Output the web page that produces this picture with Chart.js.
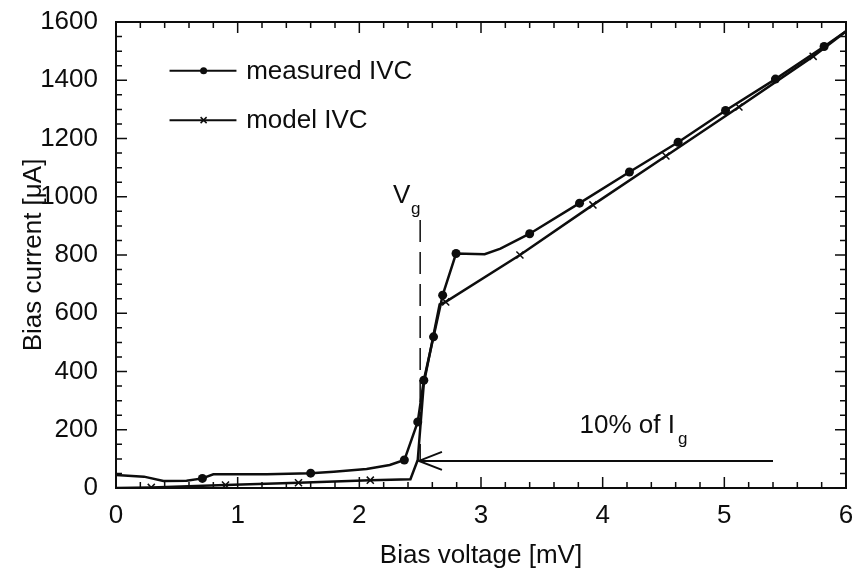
<!DOCTYPE html>
<html>
<head>
<meta charset="utf-8">
<script src="https://cdn.jsdelivr.net/npm/chart.js@4"></script>
<style>
  html, body { margin: 0; padding: 0; background: #fff; }
</style>
</head>
<body>
<canvas id="ivChart" width="853" height="575"></canvas>
<script>
// measured IV curve (mV, uA); marks = where the dots sit
const measuredV = [0, 0.23, 0.39, 0.58, 0.71, 0.8, 1.24, 1.6, 1.79, 2.06, 2.25, 2.37, 2.48, 2.53, 2.61, 2.685, 2.795, 3.03, 3.16, 3.40, 3.81, 4.22, 4.62, 5.01, 5.42, 5.82, 6.0];
const measuredI = [45, 39, 24, 25, 33, 47, 47, 51, 56, 65, 79, 96, 227, 370, 519, 662, 805, 803, 822, 873, 978, 1085, 1187, 1296, 1404, 1516, 1568];
const measuredMarks = [0, 0, 0, 0, 1, 0, 0, 1, 0, 0, 0, 1, 1, 1, 1, 1, 1, 0, 0, 1, 1, 1, 1, 1, 1, 1, 0];

// model IV curve
const modelV = [0, 0.29, 0.9, 1.5, 2.09, 2.42, 2.48, 2.53, 2.66, 2.71, 3.32, 3.92, 4.52, 5.12, 5.73, 6.0];
const modelI = [0, 2, 10, 18, 27, 30, 96, 359, 630, 639, 800, 972, 1140, 1308, 1482, 1568];
const modelMarks = [0, 1, 1, 1, 1, 0, 0, 0, 0, 1, 1, 1, 1, 1, 1, 0];

const xTicks = [0, 1, 2, 3, 4, 5, 6];
const yTicks = [0, 200, 400, 600, 800, 1000, 1200, 1400, 1600];

// annotations: gap voltage marker and the 10% of Ig arrow
const gapVoltage = 2.5;
const gapLine = [90, 920];
const arrowCurrent = 93;
const arrowFrom = 5.4;
const arrowTo = 2.49;

const FONT = '"Liberation Sans", Arial, Helvetica, sans-serif';
const INK = '#0d0d0d';

function toPoints(xs, ys) {
  return xs.map((x, i) => ({ x: x, y: ys[i] }));
}

const frameAndNotes = {
  id: 'frameAndNotes',
  afterDatasetsDraw(chart) {
    const ctx = chart.ctx;
    const a = chart.chartArea;
    const xs = chart.scales.x;
    const ys = chart.scales.y;
    ctx.save();
    ctx.strokeStyle = INK;
    ctx.fillStyle = INK;

    // frame
    ctx.lineWidth = 2;
    ctx.strokeRect(a.left, a.top, a.right - a.left, a.bottom - a.top);

    // inward ticks on all four sides
    ctx.lineWidth = 1.5;
    ctx.beginPath();
    for (let i = 0; i <= 30; i++) {
      const px = xs.getPixelForValue(i * 0.2);
      const len = i % 5 === 0 ? 11 : 6;
      ctx.moveTo(px, a.bottom); ctx.lineTo(px, a.bottom - len);
      ctx.moveTo(px, a.top); ctx.lineTo(px, a.top + len);
    }
    for (let i = 0; i <= 32; i++) {
      const py = ys.getPixelForValue(i * 50);
      const len = i % 4 === 0 ? 11 : 6;
      ctx.moveTo(a.left, py); ctx.lineTo(a.left + len, py);
      ctx.moveTo(a.right, py); ctx.lineTo(a.right - len, py);
    }
    ctx.stroke();

    // Vg dashed line
    const gx = xs.getPixelForValue(gapVoltage);
    ctx.lineWidth = 1.5;
    ctx.setLineDash([22, 10]);
    ctx.beginPath();
    ctx.moveTo(gx, ys.getPixelForValue(gapLine[1]));
    ctx.lineTo(gx, ys.getPixelForValue(gapLine[0]));
    ctx.stroke();
    ctx.setLineDash([]);

    // arrow
    const ay = ys.getPixelForValue(arrowCurrent);
    const tip = xs.getPixelForValue(arrowTo);
    ctx.lineWidth = 2;
    ctx.beginPath();
    ctx.moveTo(xs.getPixelForValue(arrowFrom), ay);
    ctx.lineTo(tip, ay);
    ctx.moveTo(tip + 23, ay - 9); ctx.lineTo(tip, ay); ctx.lineTo(tip + 23, ay + 9);
    ctx.stroke();

    // texts
    ctx.textBaseline = 'alphabetic';
    ctx.textAlign = 'left';
    ctx.font = '26px ' + FONT;
    const vx = xs.getPixelForValue(2.277), vy = ys.getPixelForValue(978);
    ctx.fillText('V', vx, vy);
    ctx.font = '17px ' + FONT;
    ctx.fillText('g', vx + 18, vy + 11);

    ctx.font = '26px ' + FONT;
    const tx = xs.getPixelForValue(3.81), ty = ys.getPixelForValue(189);
    ctx.fillText('10% of I', tx, ty);
    const tw = ctx.measureText('10% of I').width;
    ctx.font = '17px ' + FONT;
    ctx.fillText('g', tx + tw + 3, ty + 11);

    // legend
    const rows = [
      { label: chart.data.datasets[0].label, y: 1433, style: 'circle' },
      { label: chart.data.datasets[1].label, y: 1263, style: 'cross' }
    ];
    rows.forEach(r => {
      const ly = ys.getPixelForValue(r.y);
      const x0 = xs.getPixelForValue(0.44), x1 = xs.getPixelForValue(0.99);
      const mx = xs.getPixelForValue(0.72);
      ctx.lineWidth = 2;
      ctx.beginPath();
      ctx.moveTo(x0, ly); ctx.lineTo(x1, ly);
      ctx.stroke();
      if (r.style === 'circle') {
        ctx.beginPath();
        ctx.arc(mx, ly, 3.5, 0, Math.PI * 2);
        ctx.fill();
      } else {
        ctx.lineWidth = 1.5;
        ctx.beginPath();
        ctx.moveTo(mx - 3, ly - 3); ctx.lineTo(mx + 3, ly + 3);
        ctx.moveTo(mx - 3, ly + 3); ctx.lineTo(mx + 3, ly - 3);
        ctx.stroke();
      }
      ctx.font = '26px ' + FONT;
      ctx.textBaseline = 'middle';
      ctx.fillText(r.label, xs.getPixelForValue(1.07), ly + 1);
    });
    ctx.restore();
  }
};

const ctx = document.getElementById('ivChart').getContext('2d');
const ivChart = new Chart(ctx, {
  type: 'scatter',
  data: {
    datasets: [
      {
        label: 'measured IVC',
        data: toPoints(measuredV, measuredI),
        showLine: true,
        borderColor: INK,
        borderWidth: 2.5,
        backgroundColor: INK,
        pointStyle: 'circle',
        pointRadius: c => measuredMarks[c.dataIndex] ? 4.5 : 0,
        pointBorderWidth: 0,
        pointBackgroundColor: INK
      },
      {
        label: 'model IVC',
        data: toPoints(modelV, modelI),
        showLine: true,
        borderColor: INK,
        borderWidth: 2.5,
        pointStyle: 'crossRot',
        pointRadius: c => modelMarks[c.dataIndex] ? 5 : 0,
        pointBorderWidth: 1.5,
        pointBorderColor: INK
      }
    ]
  },
  options: {
    responsive: false,
    animation: false,
    events: [],
    layout: { padding: { top: 22, right: 7, left: 0, bottom: 0 } },
    plugins: {
      legend: { display: false },
      tooltip: { enabled: false }
    },
    scales: {
      x: {
        type: 'linear',
        min: 0,
        max: 6,
        afterFit: s => { s.height = 87; s.paddingLeft = 0; s.paddingRight = 0; },
        afterBuildTicks: s => { s.ticks = xTicks.map(v => ({ value: v })); },
        grid: { display: false, drawTicks: false },
        border: { display: false },
        ticks: { color: INK, padding: 12, font: { family: FONT, size: 26 }, callback: v => String(v) },
        title: {
          display: true,
          text: 'Bias voltage [mV]',
          color: INK,
          font: { family: FONT, size: 26 },
          padding: { top: 0, bottom: 4 }
        }
      },
      y: {
        type: 'linear',
        min: 0,
        max: 1600,
        afterFit: s => { s.width = 116; s.paddingTop = 0; s.paddingBottom = 0; },
        afterBuildTicks: s => { s.ticks = yTicks.map(v => ({ value: v })); },
        grid: { display: false, drawTicks: false },
        border: { display: false },
        ticks: { color: INK, padding: 18, font: { family: FONT, size: 26 }, callback: v => String(v) },
        title: {
          display: true,
          text: 'Bias current [\u03bcA]',
          color: INK,
          font: { family: FONT, size: 26 },
          padding: { top: 18, bottom: 0 }
        }
      }
    }
  },
  plugins: [frameAndNotes]
});
</script>
</body>
</html>
